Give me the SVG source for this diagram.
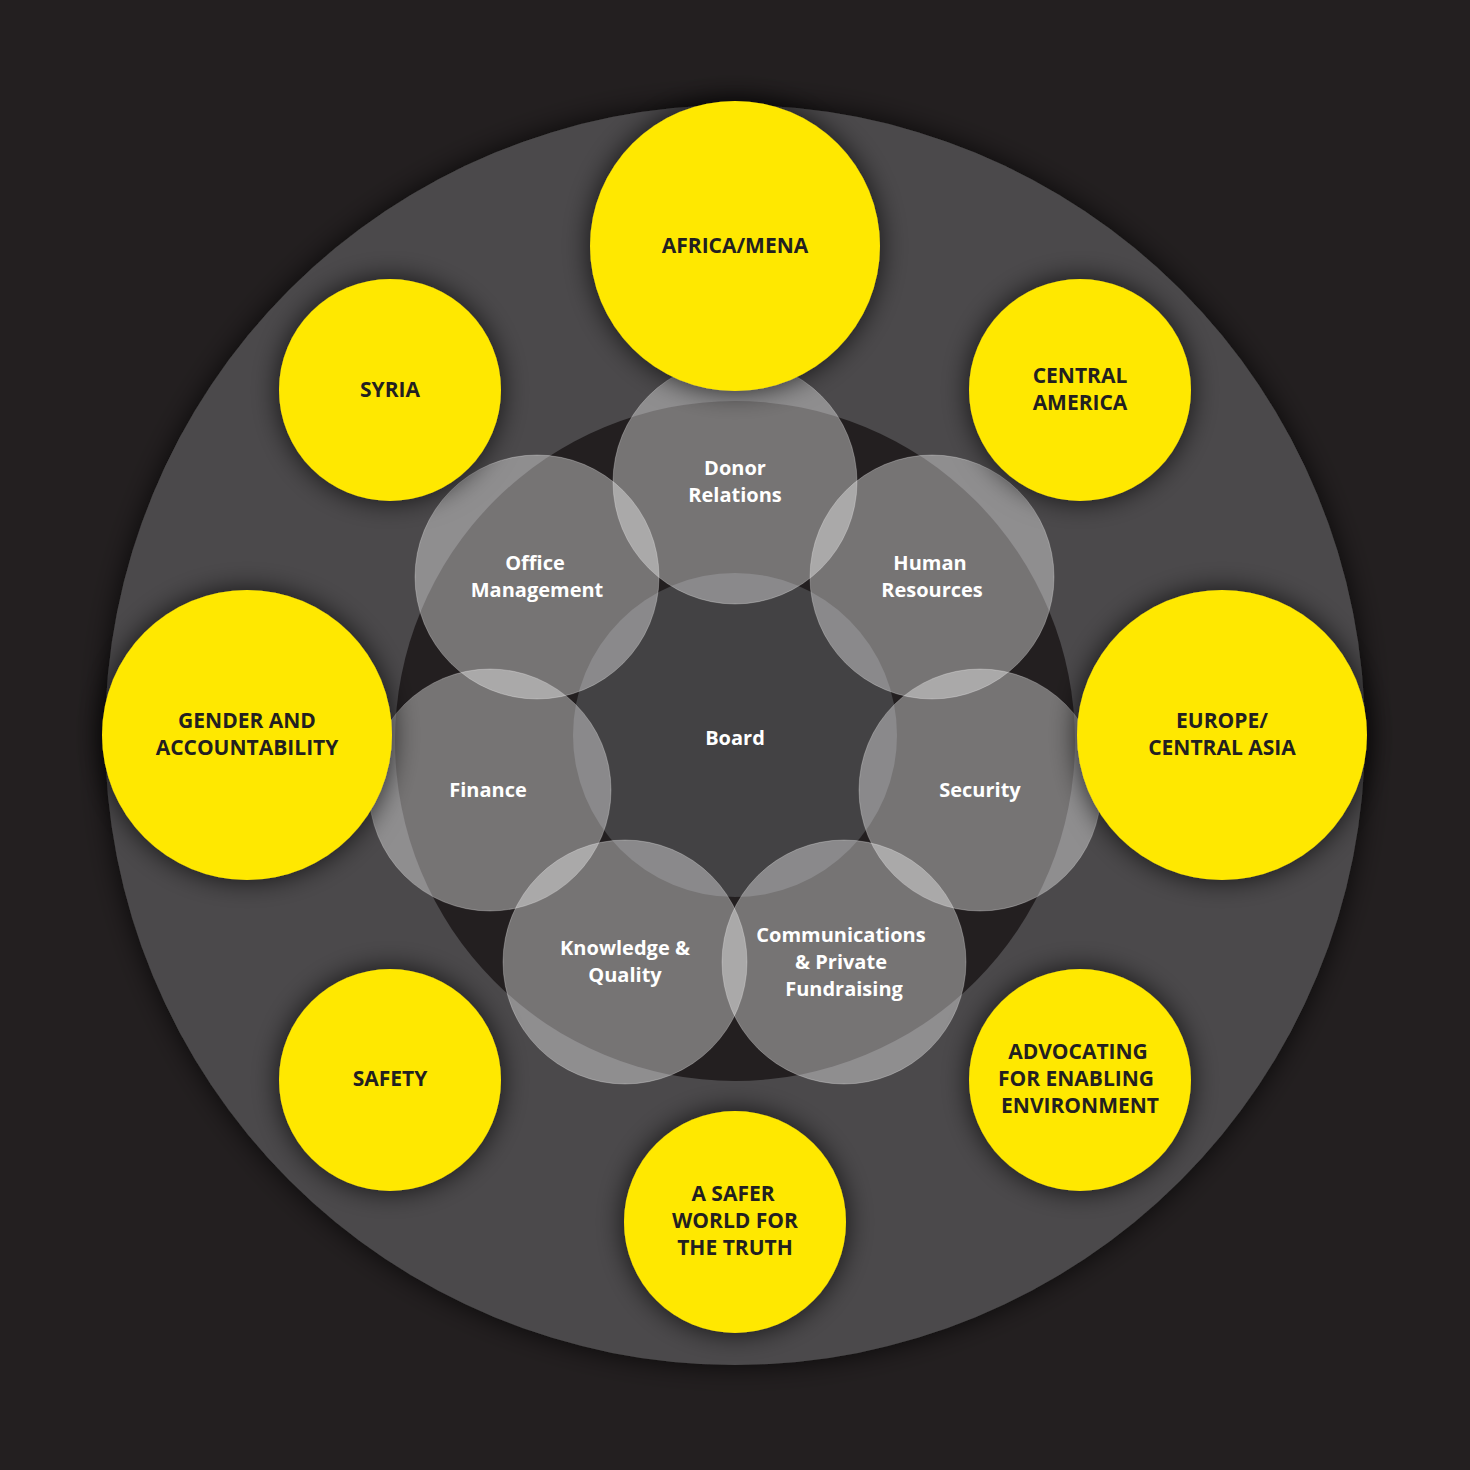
<svg xmlns="http://www.w3.org/2000/svg" width="1470" height="1470" viewBox="0 0 1470 1470">
<defs>
<filter id="sh" x="-30%" y="-30%" width="160%" height="160%"><feDropShadow dx="0" dy="0" stdDeviation="14" flood-color="#000" flood-opacity="0.75"/></filter>
<style>
.y{fill:#ffe800;filter:url(#sh)}
.g{fill:#ffffff;fill-opacity:0.38;stroke:#ffffff;stroke-opacity:0.25;stroke-width:1}
.yt{font-family:"Open Sans","Liberation Sans",sans-serif;font-weight:700;font-size:21px;fill:#231f20;text-anchor:middle}
.gt{font-family:"Open Sans","Liberation Sans",sans-serif;font-weight:700;font-size:20px;fill:#ffffff;text-anchor:middle}
</style>
</defs>
<rect width="1470" height="1470" fill="#231f20"/>
<circle cx="735" cy="735" r="630" fill="#4b4a4b" filter="url(#sh)"/>
<circle cx="735" cy="741" r="340" fill="#231f20"/>
<g id="board"><circle cx="735" cy="735" r="162" fill="#434244"/><text x="735" y="745" class="gt" font-size="32">Board</text></g>
<g id="donor"><circle class="g" cx="735" cy="482" r="122"/><text class="gt" x="735" y="475">Donor</text><text class="gt" x="735" y="502">Relations</text></g>
<g id="hr"><circle class="g" cx="932" cy="577" r="122"/><text class="gt" x="930" y="570">Human</text><text class="gt" x="932" y="597">Resources</text></g>
<g id="security"><circle class="g" cx="980" cy="790" r="121"/><text class="gt" x="980" y="797">Security</text></g>
<g id="comms"><circle class="g" cx="844" cy="962" r="122"/><text class="gt" x="841" y="942">Communications</text><text class="gt" x="841" y="969">&amp; Private</text><text class="gt" x="844" y="996">Fundraising</text></g>
<g id="knowledge"><circle class="g" cx="625" cy="962" r="122"/><text class="gt" x="625" y="955">Knowledge &amp;</text><text class="gt" x="625" y="982">Quality</text></g>
<g id="finance"><circle class="g" cx="490" cy="790" r="121"/><text class="gt" x="488" y="797">Finance</text></g>
<g id="office"><circle class="g" cx="537" cy="577" r="122"/><text class="gt" x="535" y="570">Office</text><text class="gt" x="537" y="597">Management</text></g>
<g id="africa"><circle class="y" cx="735" cy="246" r="145"/><text class="yt" x="735" y="253">AFRICA/MENA</text></g>
<g id="centralamerica"><circle class="y" cx="1080" cy="390" r="111"/><text class="yt" x="1080" y="383">CENTRAL</text><text class="yt" x="1080" y="410">AMERICA</text></g>
<g id="europe"><circle class="y" cx="1222" cy="735" r="145"/><text class="yt" x="1222" y="728">EUROPE/</text><text class="yt" x="1222" y="755">CENTRAL ASIA</text></g>
<g id="advocating"><circle class="y" cx="1080" cy="1080" r="111"/><text class="yt" x="1078" y="1059">ADVOCATING</text><text class="yt" x="1076" y="1086">FOR ENABLING</text><text class="yt" x="1080" y="1113">ENVIRONMENT</text></g>
<g id="saferworld"><circle class="y" cx="735" cy="1222" r="111"/><text class="yt" x="733" y="1201">A SAFER</text><text class="yt" x="735" y="1228">WORLD FOR</text><text class="yt" x="735" y="1255">THE TRUTH</text></g>
<g id="safety"><circle class="y" cx="390" cy="1080" r="111"/><text class="yt" x="390" y="1086">SAFETY</text></g>
<g id="gender"><circle class="y" cx="247" cy="735" r="145"/><text class="yt" x="247" y="728">GENDER AND</text><text class="yt" x="247" y="755">ACCOUNTABILITY</text></g>
<g id="syria"><circle class="y" cx="390" cy="390" r="111"/><text class="yt" x="390" y="397">SYRIA</text></g>
<g id="connectors"></g>
</svg>
